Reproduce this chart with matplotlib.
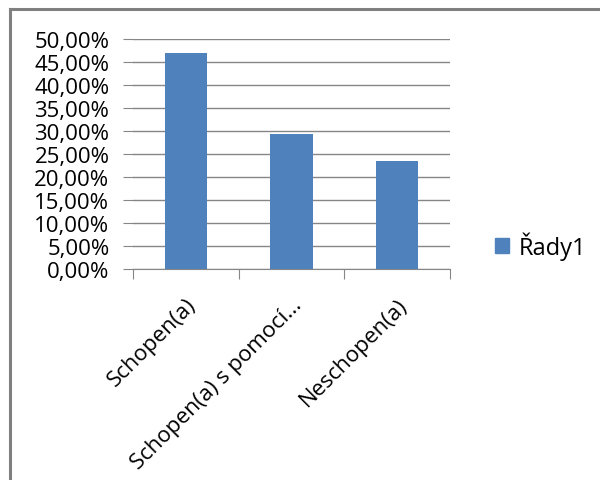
import matplotlib.pyplot as plt
from matplotlib.ticker import FuncFormatter, FixedLocator
from matplotlib.patches import Patch

categories = ["Schopen(a)", "Schopen(a) s pomocí...", "Neschopen(a)"]
values = [0.4706, 0.2941, 0.2353]
series_name = "Řady1"

bar_color = "#4F81BD"
grid_color = "#868686"

plt.rcParams['font.family'] = ['Open Sans', 'DejaVu Sans']

fig = plt.figure(figsize=(6.0, 4.81), dpi=100)
ax = fig.add_axes([133 / 600, 1 - 270 / 481, (450 - 133) / 600, (270 - 40) / 481])

x = range(len(categories))
ax.bar(x, values, width=0.4, color=bar_color, zorder=3)

ax.set_xlim(-0.5, len(categories) - 0.5)
ax.set_ylim(0, 0.5)
ax.yaxis.set_major_locator(FixedLocator([i * 0.05 for i in range(11)]))
ax.yaxis.set_major_formatter(FuncFormatter(lambda v, p: f"{v * 100:.2f}%".replace(".", ",")))
ax.grid(axis='y', color=grid_color, linewidth=1.0, zorder=0)

# boundaries between categories get the tick marks, labels sit at centres
ax.set_xticks([i - 0.5 for i in range(len(categories) + 1)])
ax.set_xticklabels([])
ax.set_xticks(list(x), minor=True)
ax.set_xticklabels(categories, minor=True, rotation=45, ha='right',
                   rotation_mode='anchor', fontsize=16)
ax.tick_params(axis='x', which='minor', length=0, pad=18)
ax.tick_params(axis='x', which='major', length=7, color=grid_color, direction='out')
ax.tick_params(axis='y', length=7, color=grid_color, labelsize=16, pad=10)

for side in ('top', 'right', 'left'):
    ax.spines[side].set_visible(False)
ax.spines['bottom'].set_color(grid_color)

fig.legend(handles=[Patch(color=bar_color, label=series_name)],
           loc='center left', bbox_to_anchor=(474 / 600, 1 - 247 / 481),
           frameon=False, fontsize=17, handlelength=0.6, handleheight=0.6,
           handletextpad=0.4)

# outer chart frame (top and left edges)
fig.add_artist(plt.Line2D([10 / 600, 10 / 600], [0, 1 - 10 / 481],
                          transform=fig.transFigure, color="#808080", linewidth=2.2))
fig.add_artist(plt.Line2D([10 / 600, 1], [1 - 10 / 481, 1 - 10 / 481],
                          transform=fig.transFigure, color="#808080", linewidth=2.2))

fig.savefig("out.png", dpi=100, facecolor='white')
